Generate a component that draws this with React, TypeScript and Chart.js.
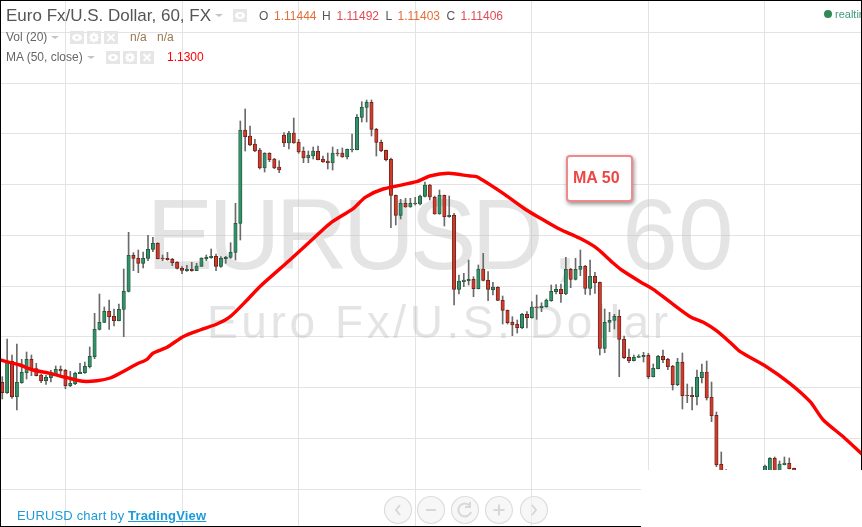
import React, { useEffect, useRef } from "react";
import { Chart, registerables } from "chart.js";

Chart.register(...registerables);

const opens = [113567,113463,113777,113423,113563,113663,113797,113703,113640,113583,113613,113653,113697,113687,113533,113553,113653,113663,113723,113823,114097,114167,114277,114227,114183,114297,114477,114837,114807,114757,114807,114897,114957,114810,114807,114797,114767,114707,114683,114697,114683,114727,114803,114813,114827,114727,114803,114817,114867,115157,116090,116030,115950,115890,115710,115857,115800,115720,116040,115960,116060,115970,115880,115810,115830,115877,115800,115780,115760,115860,115860,115820,115893,115893,116217,116317,116367,116097,115967,115887,115797,115437,115237,115357,115320,115350,115350,115427,115540,115417,115250,115437,115223,115237,114497,114573,114583,114597,114503,114700,114587,114493,114517,114387,114287,114167,114147,114113,114247,114213,114320,114313,114323,114383,114473,114497,114450,114697,114597,114697,114727,114507,114627,114567,113907,114167,114187,114227,113997,113817,113783,113817,113823,113837,113623,113703,113827,113797,113727,113543,113767,113437,113437,113423,113613,113670,113417,113237,112747,112687,112570,112470,112380,112300,112420,112500,112570,112610,112660,112807,112630,112743,112757,112707];
const highs = [113623,114000,113840,113950,113797,113870,113840,113757,113647,113637,113687,113730,113730,113697,113677,113670,113757,113770,113920,114257,114450,114320,114390,114300,114350,114700,115067,114863,114890,114870,115037,115017,114963,114840,114867,114807,114773,114723,114737,114767,114757,114813,114840,114900,114850,114823,114827,114963,115357,116180,116300,116130,115997,115907,115863,115863,115807,115783,116063,116077,116210,115997,115920,115880,115920,115930,115830,115860,115920,115897,115910,115900,116050,116243,116373,116390,116390,116107,115990,115890,115810,115440,115397,115407,115407,115417,115440,115570,115547,115430,115490,115440,115430,115257,114640,114657,114790,114623,114740,114857,114673,114567,114523,114430,114290,114223,114190,114257,114273,114373,114440,114363,114400,114540,114543,114550,114817,114707,114807,114890,114737,114790,114667,114570,114300,114267,114247,114290,114030,113900,113840,113843,113867,113857,113750,113837,113890,113807,113737,113807,113860,113550,113520,113690,113750,113780,113570,113270,112870,112695,112640,112520,112440,112480,112560,112610,112620,112740,112813,112820,112780,112820,112810,112710];
const lows = [113400,113457,113407,113290,113557,113600,113633,113630,113563,113547,113570,113647,113630,113503,113523,113543,113653,113657,113710,113803,114090,114163,114097,114130,114180,114023,114470,114683,114663,114710,114783,114873,114800,114783,114787,114733,114700,114653,114677,114677,114683,114727,114783,114807,114683,114717,114757,114807,114790,114990,115880,115933,115873,115700,115670,115773,115703,115663,115923,115900,115957,115857,115763,115763,115800,115790,115767,115700,115690,115830,115817,115800,115870,115890,116170,116170,116030,115830,115873,115780,115113,115140,115200,115317,115317,115340,115340,115420,115390,115247,115247,115130,115217,114340,114450,114523,114540,114423,114500,114580,114383,114440,114383,114150,114150,114033,114060,114103,114110,114207,114197,114273,114317,114377,114450,114367,114443,114513,114590,114633,114447,114440,114457,113840,113863,114073,114100,113623,113803,113763,113780,113813,113770,113603,113620,113700,113763,113693,113490,113533,113300,113363,113290,113340,113560,113390,113173,112723,112540,112490,112420,112330,112250,112260,112380,112460,112500,112570,112610,112570,112590,112740,112700,112550];
const closes = [113463,113777,113423,113567,113667,113797,113703,113633,113583,113617,113663,113697,113680,113533,113557,113657,113667,113727,113827,114097,114167,114277,114223,114183,114297,114477,114837,114807,114757,114807,114897,114957,114803,114803,114793,114763,114707,114687,114697,114683,114730,114807,114817,114827,114727,114807,114817,114867,115157,116090,116023,115940,115880,115710,115857,115793,115710,115690,115960,116060,115960,115870,115810,115840,115880,115793,115770,115760,115860,115853,115820,115897,115900,116217,116317,116367,116097,115967,115883,115793,115437,115237,115357,115320,115357,115360,115430,115540,115420,115250,115437,115223,115237,114497,114580,114590,114597,114503,114700,114587,114497,114520,114387,114287,114163,114140,114113,114247,114213,114320,114313,114330,114390,114477,114497,114453,114697,114597,114697,114727,114507,114627,114563,113907,114167,114187,114227,113997,113813,113783,113817,113827,113837,113623,113707,113827,113793,113723,113543,113767,113433,113433,113423,113617,113670,113410,113233,112743,112610,112570,112470,112380,112300,112420,112500,112570,112590,112730,112807,112630,112750,112760,112703,112620];

const maBars = [-0.47,3.6,6.3,9.8,13.3,16.6,19.5,22.2,24.8,27.7,29.8,31,33.9,37.2,40.7,44.2,46.9,50.4,53,59.2,63.7,67.5,72.3,74.7,78.4,85.3,88,91.8,96.3,97.7,103.1,107.9,111.4,114.8,118.9,122.4,125.8,127.5,131.3,134,137.1,141.6,144.3,147,149.8,151.9,157.3,162.1,166.3,169,173.1,177];
const maValues = [113790,113740,113690,113657,113613,113577,113583,113610,113673,113750,113797,113857,113917,114023,114090,114150,114223,114390,114523,114790,114990,115157,115307,115417,115500,115573,115630,115657,115630,115623,115457,115290,115190,115097,115007,114907,114757,114690,114573,114497,114383,114223,114167,114083,113967,113873,113723,113557,113373,113190,113023,112847];

const priceGrid = [1.17067,1.16559,1.16051,1.15543,1.15035,1.14527,1.1402,1.13512,1.13004,1.12496];
const barGrid = [13,37,61,85,109,133,157];
const symbolName = "Euro Fx/U.S. Dollar";

const px = (v: number) => v / 100000;
const UP = "#32916a", UP_EDGE = "#1f5235", DOWN = "#cc3b2c", DOWN_EDGE = "#661d14";

const watermark = {
  id: "watermark",
  beforeDatasetsDraw(chart: any) {
    const { ctx } = chart;
    ctx.save();
    ctx.fillStyle = "rgba(190,190,190,0.42)";
    ctx.textBaseline = "alphabetic";
    ctx.textAlign = "left";
    ctx.font = '100px "Liberation Sans"';
    ctx.letterSpacing = "-5px";
    ctx.fillText("EURUSD", 146.5, 269);
    ctx.letterSpacing = "0px";
    ctx.fillText(",", 551, 269);
    ctx.fillText("60", 622.3, 269);
    ctx.font = '46px "Liberation Sans"';
    ctx.letterSpacing = "3.6px";
    ctx.fillText(symbolName, 207, 338);
    ctx.restore();
  },
};

const box = (x: number, y: number, w: number, h: number, extra: any = {}): any => ({ position: "absolute", left: x, top: y, width: w, height: h, ...extra });
const label = (x: number, y: number, color: string, size = 12, extra: any = {}): any => ({ position: "absolute", left: x, top: y, color, fontSize: size, lineHeight: `${size + 2}px`, whiteSpace: "nowrap", ...extra });

function Icon({ x, y, kind }: { x: number; y: number; kind: "eye" | "gear" | "x" }) {
  return (
    <svg style={{ position: "absolute", left: x, top: y }} width={14} height={13} viewBox="0 0 14 13">
      <rect width="14" height="13" fill="#e6e6e6" />
      {kind === "eye" && <g><ellipse cx="7" cy="6.5" rx="5" ry="3.4" fill="#fff" /><circle cx="7" cy="6.5" r="1.7" fill="#e6e6e6" /></g>}
      {kind === "gear" && <g><circle cx="7" cy="6.5" r="4" fill="#fff" /><path d="M7 1.5v10M2 6.5h10M3.5 3l7 7M10.5 3l-7 7" stroke="#fff" strokeWidth="1.6" /><circle cx="7" cy="6.5" r="1.4" fill="#e6e6e6" /></g>}
      {kind === "x" && <path d="M3.5 3l7 7M10.5 3l-7 7" stroke="#fff" strokeWidth="1.8" />}
    </svg>
  );
}

function Caret({ x, y }: { x: number; y: number }) {
  return <div style={{ position: "absolute", left: x, top: y, width: 0, height: 0, borderLeft: "4px solid transparent", borderRight: "4px solid transparent", borderTop: "3px solid #c4c4c4" }} />;
}

function NavButton({ cx, glyph }: { cx: number; glyph: string }) {
  return (
    <svg style={{ position: "absolute", left: cx - 15, top: 495 }} width={30} height={30} viewBox="0 0 30 30">
      <circle cx="15" cy="15" r="13.5" fill="rgba(242,242,242,0.6)" stroke="#dedede" strokeWidth="1.2" />
      <path d={glyph} fill="none" stroke="#d8d8d8" strokeWidth="2" />
    </svg>
  );
}

export default function App() {
  const ref = useRef<HTMLCanvasElement>(null);
  useEffect(() => {
    const wick = opens.map((_, i) => ({ x: i, y: [lows[i], highs[i]].map(px) }));
    const body = opens.map((o, i) => ({ x: i, y: [o, closes[i]].map(px) }));
    const isUp = closes.map((c, i) => c >= opens[i]);
    const chart = new Chart(ref.current as HTMLCanvasElement, {
      type: "bar",
      data: {
        datasets: [
          {
            type: "line",
            data: maBars.map((b, i) => ({ x: b, y: px(maValues[i]) })),
            borderColor: "#ff0000",
            borderWidth: 3.4,
            pointRadius: 0,
            tension: 0.25,
            order: 1,
          },
          {
            type: "bar",
            data: body as any,
            backgroundColor: isUp.map((u) => (u ? UP : DOWN)),
            borderColor: isUp.map((u) => (u ? UP_EDGE : DOWN_EDGE)),
            borderWidth: 0.8,
            borderSkipped: false,
            barThickness: 3.4,
            grouped: false,
            order: 2,
          },
          {
            type: "bar",
            data: wick as any,
            backgroundColor: "#6a6a6a",
            barThickness: 1,
            grouped: false,
            order: 3,
          },
        ],
      } as any,
      options: {
        animation: false,
        responsive: false,
        layout: { padding: 0 },
        plugins: { legend: { display: false }, tooltip: { enabled: false } },
        scales: {
          x: {
            type: "linear",
            min: -0.47,
            max: 176.97,
            offset: false,
            border: { display: false },
            grid: { color: "#e3e3e3", lineWidth: 1, offset: false, drawTicks: false },
            ticks: { display: false },
            afterBuildTicks: (s: any) => { s.ticks = barGrid.map((value) => ({ value })); },
          },
          y: {
            type: "linear",
            min: 1.1212,
            max: 1.1739,
            border: { display: false },
            grid: { color: "#e3e3e3", lineWidth: 1, drawTicks: false },
            ticks: { display: false },
            afterBuildTicks: (s: any) => { s.ticks = priceGrid.map((value) => ({ value })); },
          },
        },
      } as any,
      plugins: [watermark],
    });
    return () => chart.destroy();
  }, []);

  return (
    <div style={{ position: "fixed", left: 0, top: 0, width: 862, height: 527, overflow: "hidden", background: "#fff", fontFamily: '"Liberation Sans", Arial, sans-serif' }}>
      <canvas ref={ref} width={862} height={527} style={{ display: "block", width: 862, height: 527 }} />

      <div style={box(641, 470, 221, 57, { background: "#fff" })} />
      <div style={box(0, 0, 862, 1, { background: "#000" })} />
      <div style={box(0, 0, 1, 527, { background: "#000" })} />
      <div style={box(861, 0, 1, 470, { background: "#000" })} />
      <div style={box(0, 526, 641, 1, { background: "#000" })} />

      <span style={label(6, 6, "#555", 17)}>Euro Fx/U.S. Dollar, 60, FX</span>
      <Caret x={215} y={14} />
      <Icon x={233} y={9} kind="eye" />
      <span style={label(259, 9, "#555")}>O</span>
      <span style={label(274, 9, "#e46e36")}>1.11444</span>
      <span style={label(322, 9, "#555")}>H</span>
      <span style={label(336.5, 9, "#e04a55")}>1.11492</span>
      <span style={label(385.5, 9, "#555")}>L</span>
      <span style={label(397.5, 9, "#e46e36")}>1.11403</span>
      <span style={label(446.5, 9, "#555")}>C</span>
      <span style={label(460.5, 9, "#e04a55")}>1.11406</span>

      <span style={label(6, 30, "#666")}>Vol (20)</span>
      <Caret x={51} y={36} />
      <Icon x={70} y={31} kind="eye" />
      <Icon x={87} y={31} kind="gear" />
      <Icon x={104} y={31} kind="x" />
      <span style={label(130, 30, "#96784e")}>n/a</span>
      <span style={label(157, 30, "#96784e")}>n/a</span>

      <span style={label(6, 50, "#666")}>MA (50, close)</span>
      <Caret x={87} y={56} />
      <Icon x={106} y={51} kind="eye" />
      <Icon x={123} y={51} kind="gear" />
      <Icon x={140} y={51} kind="x" />
      <span style={label(167, 50, "#ff0000")}>1.1300</span>

      <div style={{ position: "absolute", left: 824, top: 10, width: 8, height: 8, borderRadius: 4, background: "#2e8b57" }} />
      <div style={box(835, 7, 26, 16, { overflow: "hidden" })}>
        <span style={{ position: "absolute", left: 0, top: 0, color: "#3f9a7a", fontSize: 11, lineHeight: "14px" }}>realtime</span>
      </div>

      <div style={{ position: "absolute", left: 566, top: 155, width: 63, height: 43, border: "2px solid #f08a8a", borderRadius: 4, background: "#fff", boxShadow: "1px 2px 4px rgba(0,0,0,0.45)" }}>
        <span style={{ position: "absolute", left: 5, top: 11, color: "#ee4545", fontSize: 16, lineHeight: "20px", fontWeight: 700 }}>MA 50</span>
      </div>

      <span style={label(17, 508, "#1d9bd8", 13, { letterSpacing: 0.17 })}>EURUSD chart by <b style={{ textDecoration: "underline" }}>TradingView</b></span>

      <NavButton cx={398} glyph="M17 10l-4 5 4 5" />
      <NavButton cx={431} glyph="M10 15h10" />
      <NavButton cx={465} glyph="M20 11a6.5 6.5 0 1 0 1 6M20 7v5h-5" />
      <NavButton cx={499} glyph="M9.5 15h11M15 9.5v11" />
      <NavButton cx={534} glyph="M13 10l4 5-4 5" />
    </div>
  );
}
